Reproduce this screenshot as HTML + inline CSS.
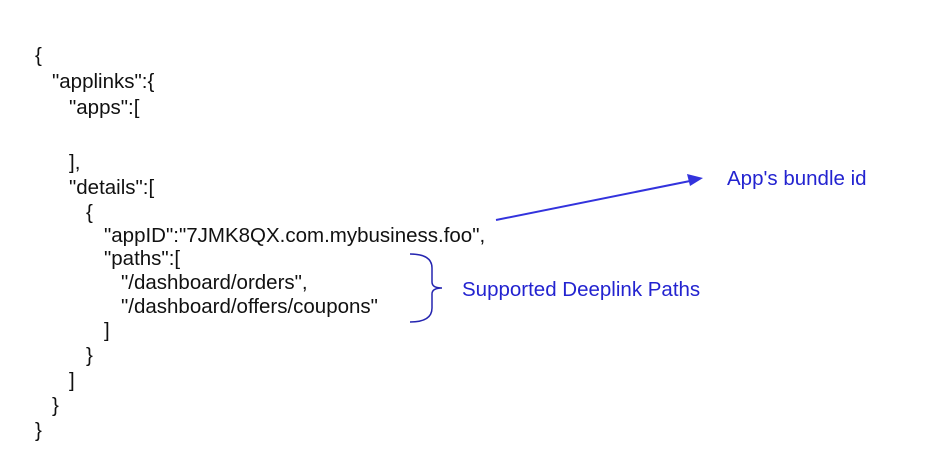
<html><head><style>
body{margin:0;width:936px;height:468px;background:#fff;position:relative;overflow:hidden;font-family:"Liberation Sans",sans-serif;}
.t{position:absolute;font-size:20.5px;color:#111;white-space:pre;line-height:22px;}
.b{position:absolute;font-size:20.5px;color:#2323d0;white-space:pre;line-height:22px;}
</style></head><body>
<div class="t" style="left:35px;top:45px">{</div>
<div class="t" style="left:52px;top:71px">"applinks":{</div>
<div class="t" style="left:69px;top:97px">"apps":[</div>
<div class="t" style="left:69px;top:152px">],</div>
<div class="t" style="left:69px;top:177px">"details":[</div>
<div class="t" style="left:86px;top:202px">{</div>
<div class="t" style="left:104px;top:225px">"appID":"7JMK8QX.com.mybusiness.foo",</div>
<div class="t" style="left:104px;top:248px">"paths":[</div>
<div class="t" style="left:121px;top:272px">"/dashboard/orders",</div>
<div class="t" style="left:121px;top:296px">"/dashboard/offers/coupons"</div>
<div class="t" style="left:104px;top:320px">]</div>
<div class="t" style="left:86px;top:345px">}</div>
<div class="t" style="left:69px;top:370px">]</div>
<div class="t" style="left:52px;top:395px">}</div>
<div class="t" style="left:35px;top:420px">}</div>
<svg style="position:absolute;left:0;top:0" width="936" height="468">
<line x1="496" y1="220" x2="690" y2="181" stroke="#3333dd" stroke-width="2"/>
<polygon points="703,178 687,174 690,186" fill="#3333dd"/>
<path d="M410,254 Q432,254 432,268 L432,282 Q432,288 442,288 Q432,288 432,294 L432,308 Q432,322 410,322" fill="none" stroke="#2525b0" stroke-width="1.5"/>
</svg>
<div class="b" style="left:727px;top:168px">App's bundle id</div>
<div class="b" style="left:462px;top:279px">Supported Deeplink Paths</div>
</body></html>
